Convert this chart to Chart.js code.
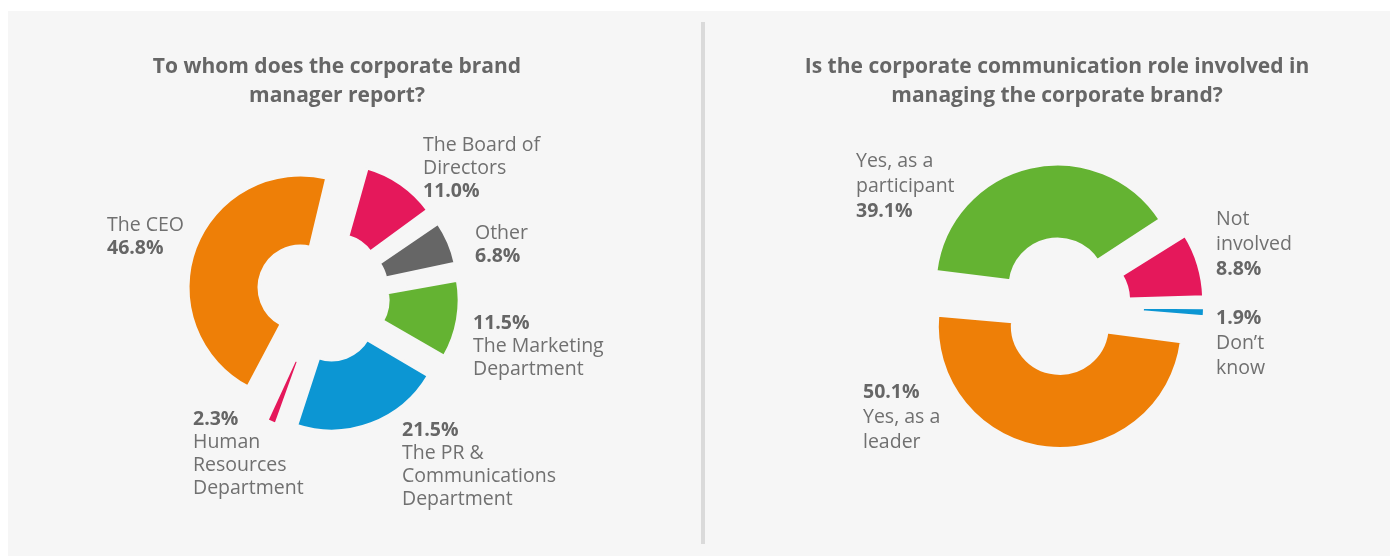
<!DOCTYPE html>
<html>
<head>
<meta charset="utf-8">
<script src="https://cdn.jsdelivr.net/npm/chart.js@4.4.1/dist/chart.umd.min.js"></script>
<style>
    html, body { margin: 0; padding: 0; background: #ffffff; width: 1390px; height: 558px; overflow: hidden; }
    .panel { position: absolute; left: 8px; top: 11px; width: 1382px; height: 545px; background: #f6f6f6; }
    .divider { position: absolute; left: 701px; top: 22px; width: 4px; height: 522px; background: #dadada; }
    canvas { position: absolute; left: 0; top: 0; }
</style>
</head>
<body>
<div class="panel"></div>
<div class="divider"></div>
<script>
// Left chart: to whom does the brand manager report
const reportTitle = ['To whom does the corporate brand', 'manager report?'];
const reportLabels = [
    ['The Board of', 'Directors'],
    ['Other'],
    ['The Marketing', 'Department'],
    ['The PR &', 'Communications', 'Department'],
    ['Human', 'Resources', 'Department'],
    ['The CEO']
];
const reportValues = [11.0, 6.8, 11.5, 21.5, 2.3, 46.8];

// Right chart: is corporate communication involved
const roleTitle = ['Is the corporate communication role involved in', 'managing the corporate brand?'];
const roleLabels = [
    ['Yes, as a', 'participant'],
    ['Not', 'involved'],
    ['Don\u2019t', 'know'],
    ['Yes, as a', 'leader']
];
const roleValues = [39.1, 8.8, 1.9, 50.1];

const W = 1390;
const H = 558;
const BORDER = 3;
const PANEL_BG = '#f6f6f6';
const TEXT_COLOR = '#707070';
const BOLD_COLOR = '#666666';
const FONT = '"Open Sans", "Noto Sans", sans-serif';

const ORANGE = '#ee7f07';
const PINK = '#e5185b';
const GREY = '#666666';
const GREEN = '#64b332';
const BLUE = '#0c96d3';

/**
 * Draws the title and the slice labels (name + bold percentage)
 */
const sliceLabels = {
    id: 'sliceLabels',
    afterDraw(chart, args, opts) {
        const ctx = chart.ctx;
        const values = chart.data.datasets[0].data;
        ctx.save();
        ctx.textBaseline = 'middle';

        ctx.textAlign = 'center';
        ctx.fillStyle = BOLD_COLOR;
        ctx.font = 'bold 21px ' + FONT;
        opts.title.forEach((line, i) => {
            ctx.fillText(line, opts.titleX, opts.titleY + i * 29);
        });

        ctx.textAlign = 'left';
        chart.data.labels.forEach((name, i) => {
            const pos = opts.positions[i];
            const pct = values[i].toFixed(1) + '%';
            const lines = opts.pctFirst[i]
                ? [{ t: pct, b: true }].concat(name.map(t => ({ t: t, b: false })))
                : name.map(t => ({ t: t, b: false })).concat([{ t: pct, b: true }]);
            lines.forEach((line, j) => {
                ctx.font = line.b ? 'bold 19.5px ' + FONT : '19.5px ' + FONT;
                ctx.fillStyle = line.b ? BOLD_COLOR : TEXT_COLOR;
                ctx.fillText(line.t, pos[0], pos[1] + j * opts.lineHeight);
            });
        });
        ctx.restore();
    }
};

/**
 * Chart.js grows the radius of an offset arc by offset * fix; undo that per slice
 */
function sliceFix(value, total) {
    const circ = value / total * 2 * Math.PI;
    return 1 - Math.sin(Math.min(Math.PI, circ));
}

/**
 * Exploded doughnut: one stacked canvas per slice so every slice keeps the same ring size
 */
function drawDoughnut(cfg) {
    const total = cfg.values.reduce((a, b) => a + b, 0);
    const dx = 2 * cfg.center[0] - W;
    const dy = 2 * cfg.center[1] - H;
    const padding = {
        left: Math.max(dx, 0),
        right: Math.max(-dx, 0),
        top: Math.max(dy, 0),
        bottom: Math.max(-dy, 0)
    };

    cfg.values.forEach((value, i) => {
        const canvas = document.createElement('canvas');
        canvas.width = W;
        canvas.height = H;
        document.body.appendChild(canvas);

        const grow = cfg.explode * sliceFix(value, total);
        const outer = cfg.outer - grow - BORDER / 2;
        const inner = cfg.inner[i] - grow - BORDER / 2;

        new Chart(canvas, {
            type: 'doughnut',
            data: {
                labels: cfg.labels,
                datasets: [{
                    data: cfg.values,
                    backgroundColor: cfg.colors.map((c, j) => j === i ? c : 'transparent'),
                    borderColor: cfg.colors.map((c, j) => j === i ? PANEL_BG : 'transparent'),
                    borderWidth: BORDER,
                    offset: cfg.explode * 4
                }]
            },
            options: {
                responsive: false,
                animation: false,
                rotation: cfg.rotation,
                radius: outer + BORDER,
                cutout: (inner / (outer + BORDER) * 100) + '%',
                layout: { padding: padding },
                plugins: {
                    legend: { display: false },
                    tooltip: { enabled: false },
                    sliceLabels: cfg.text
                }
            },
            plugins: i === 0 ? [sliceLabels] : []
        });
    });
}

drawDoughnut({
    labels: reportLabels,
    values: reportValues,
    colors: [PINK, GREY, GREEN, BLUE, PINK, ORANGE],
    center: [323, 296],
    outer: 111,
    inner: [43, 43, 43, 43, 47, 43],
    explode: 24,
    rotation: 15,
    text: {
        title: reportTitle,
        titleX: 337,
        titleY: 67,
        lineHeight: 23,
        positions: [[423, 145], [475, 233], [473, 323], [402, 430], [193, 419], [107, 225]],
        pctFirst: [false, false, true, true, true, false]
    }
});

drawDoughnut({
    labels: roleLabels,
    values: roleValues,
    colors: [GREEN, PINK, BLUE, ORANGE],
    center: [1062, 306],
    outer: 121,
    inner: [49, 49, 62, 49],
    explode: 20,
    rotation: 276.5,
    text: {
        title: roleTitle,
        titleX: 1057,
        titleY: 67,
        lineHeight: 25,
        positions: [[856, 161], [1216, 219], [1216, 318], [863, 392]],
        pctFirst: [false, false, true, true]
    }
});
</script>
</body>
</html>
